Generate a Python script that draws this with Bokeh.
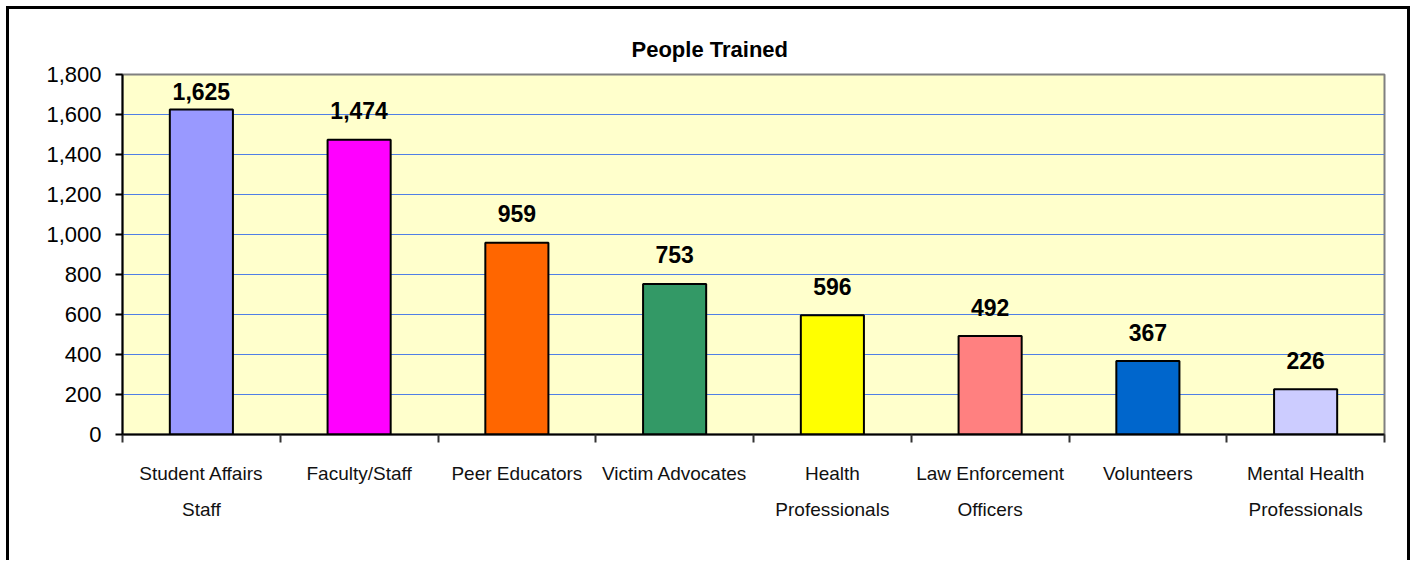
import numpy as np
from bokeh.plotting import figure
from bokeh.models import ColumnDataSource, FixedTicker, NumeralTickFormatter, Range1d
from bokeh.core.properties import value
from bokeh.embed import file_html
from bokeh.resources import INLINE

title = "People Trained"
categories = ["Student Affairs\nStaff", "Faculty/Staff", "Peer Educators", "Victim Advocates",
              "Health\nProfessionals", "Law Enforcement\nOfficers", "Volunteers",
              "Mental Health\nProfessionals"]
people = [1625, 1474, 959, 753, 596, 492, 367, 226]
colors = ["#9999FF", "#FF00FF", "#FF6600", "#339966", "#FFFF00", "#FF8080", "#0066CC", "#CCCCFF"]
y_ticks = [0, 200, 400, 600, 800, 1000, 1200, 1400, 1600, 1800]

n = len(categories)
xs = np.arange(n) + 0.5
# labels that would run into the top of the plot are pulled down (as in the original)
label_y = np.minimum(np.array(people), 1570)
src = ColumnDataSource(dict(x=xs, top=people, color=colors, ly=label_y,
                            label=[f"{v:,}" for v in people]))

p = figure(width=1404, height=554, output_backend="svg", toolbar_location=None,
           x_range=Range1d(0, n), y_range=Range1d(0, 1800),
           min_border_left=113, min_border_right=29, min_border_top=65, min_border_bottom=129)
p.styles = {"border-left": "3px solid black", "border-top": "3px solid black",
            "border-right": "3px solid black", "margin-left": "6px", "margin-top": "6px"}

p.background_fill_color = "#FFFFCC"
p.border_fill_color = "white"
p.outline_line_color = "#808080"
p.outline_line_width = 2

p.title.text = title
p.title.align = "left"
p.title.offset = 509
p.title.standoff = 25
p.title.text_font = "Liberation Sans"
p.title.text_font_size = "22px"
p.title.text_font_style = "bold"
p.title.text_color = "black"

p.vbar(x="x", top="top", bottom=0, width=0.4, fill_color="color",
       line_color="black", line_width=2, source=src)
p.text(x="x", y="ly", text="label", source=src, text_align="center",
       text_baseline="alphabetic", y_offset=-29, text_font=value("Liberation Sans"),
       text_font_size="23px", text_font_style="bold", text_color="black")

# y axis
yax = p.yaxis[0]
yax.ticker = FixedTicker(ticks=y_ticks)
yax.formatter = NumeralTickFormatter(format="0,0")
yax.major_label_text_font = "Liberation Sans"
yax.major_label_text_font_size = "22px"
yax.major_label_text_color = "black"
yax.major_label_standoff = 14
yax.major_tick_in = 0
yax.major_tick_out = 7
yax.minor_tick_line_color = None
yax.axis_line_color = "black"
yax.axis_line_width = 2
yax.major_tick_line_color = "black"
yax.major_tick_line_width = 2

# x axis
xax = p.xaxis[0]
xax.ticker = FixedTicker(ticks=list(xs), minor_ticks=list(range(n + 1)))
xax.major_label_overrides = {float(x): c for x, c in zip(xs, categories)}
xax.major_label_text_font = "Liberation Sans"
xax.major_label_text_font_size = "19px"
xax.major_label_text_color = "#111111"
xax.major_label_text_line_height = 1.75
xax.major_label_standoff = 20
xax.major_tick_in = 0
xax.major_tick_out = 0
xax.minor_tick_in = 0
xax.minor_tick_out = 8
xax.minor_tick_line_color = "#333333"
xax.minor_tick_line_width = 2
xax.axis_line_color = "black"
xax.axis_line_width = 2

p.xgrid.grid_line_color = None
p.ygrid.ticker = FixedTicker(ticks=y_ticks)
p.ygrid.grid_line_color = "#4F7FE6"
p.ygrid.grid_line_width = 1

open("out.html", "w").write(file_html(p, INLINE))
